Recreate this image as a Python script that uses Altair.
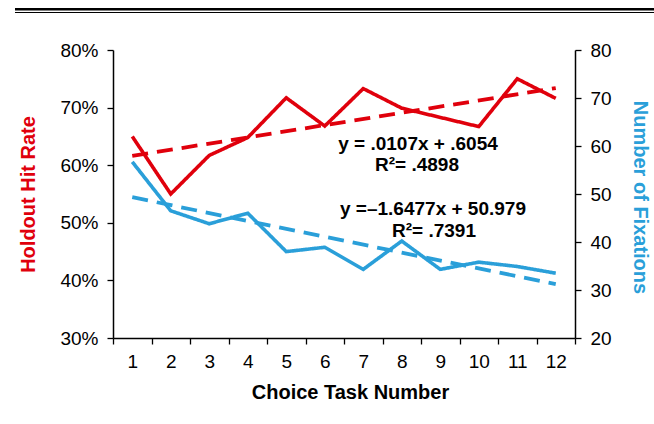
import altair as alt
import pandas as pd

# Choice tasks 1..12
tasks = list(range(1, 13))

# Holdout hit rate per task (share)
hit_rate = [0.650, 0.550, 0.617, 0.648, 0.717, 0.668, 0.733, 0.699, 0.683, 0.667, 0.750, 0.716]

# Number of fixations per task
fixations = [56.7, 46.5, 43.8, 46.0, 38.0, 38.9, 34.3, 40.2, 34.3, 35.8, 34.9, 33.5]

# Linear trend coefficients (slope, intercept) and fit quality
hit_slope, hit_intercept, hit_r2 = 0.0107, 0.6054, ".4898"
fix_slope, fix_intercept, fix_r2 = -1.6477, 50.979, ".7391"

hit_eq = "y = .0107x + .6054"
fix_eq = "y =\u20131.6477x + 50.979"

RED = "#E0000C"
BLUE = "#2A9FD9"
FONT = "Liberation Sans"

trend_x = [tasks[0], tasks[-1]]

red_df = pd.DataFrame(
    {"task": tasks, "value": hit_rate, "kind": "observed"}
)
red_df = pd.concat(
    [red_df, pd.DataFrame({"task": trend_x,
                           "value": [hit_intercept + hit_slope * t for t in trend_x],
                           "kind": "trend"})],
    ignore_index=True,
)

blue_df = pd.DataFrame(
    {"task": tasks, "value": fixations, "kind": "observed"}
)
blue_df = pd.concat(
    [blue_df, pd.DataFrame({"task": trend_x,
                            "value": [fix_intercept + fix_slope * t for t in trend_x],
                            "kind": "trend"})],
    ignore_index=True,
)

dash_scale = alt.Scale(domain=["observed", "trend"], range=[[1, 0], [16, 9]])
width_scale = alt.Scale(domain=["observed", "trend"], range=[3.6, 3.8])

x_enc = alt.X(
    "task:O",
    scale=alt.Scale(type="band", paddingInner=0, paddingOuter=0),
    axis=alt.Axis(
        title="Choice Task Number",
        labelAngle=0,
        tickBand="extent",
        tickSize=6,
        labelPadding=8,
        labelFontSize=19,
        titleFontSize=20,
        titleFontWeight="bold",
        titleX=237,
        titleY=54,
        titleBaseline="middle",
        titleAlign="center",
    ),
)

red_lines = alt.Chart(red_df).mark_line(color=RED, strokeCap="butt").encode(
    x=x_enc,
    y=alt.Y(
        "value:Q",
        scale=alt.Scale(domain=[0.3, 0.8], zero=False),
        axis=alt.Axis(
            title="Holdout Hit Rate",
            orient="left",
            values=[0.3, 0.4, 0.5, 0.6, 0.7, 0.8],
            format=".0%",
            tickSize=6,
            labelPadding=9,
            labelFontSize=19,
            titleColor=RED,
            titleFontSize=20,
            titleFontWeight="bold",
            titleAngle=270,
            titleX=-85,
            titleY=144,
            titleBaseline="middle",
            titleAlign="center",
            grid=False,
        ),
    ),
    detail="kind:N",
    strokeDash=alt.StrokeDash("kind:N", scale=dash_scale, legend=None),
    strokeWidth=alt.StrokeWidth("kind:N", scale=width_scale, legend=None),
)

hit_notes = pd.DataFrame({
    "task": [9, 9],
    "value": [0.6368, 0.6005],
    "label": [hit_eq, "R\u00b2= " + hit_r2],
    "shift": [-3, -4],
})

red_text = alt.Chart(hit_notes).mark_text(
    font=FONT, fontSize=19, fontWeight="bold", color="black", baseline="middle"
).encode(
    x=alt.X("task:O"),
    y=alt.Y("value:Q"),
    xOffset=alt.XOffset("shift:Q", scale=None),
    text="label:N",
)

blue_lines = alt.Chart(blue_df).mark_line(color=BLUE, strokeCap="butt").encode(
    x=alt.X("task:O"),
    y=alt.Y(
        "value:Q",
        scale=alt.Scale(domain=[20, 80], zero=False),
        axis=alt.Axis(
            title="Number of Fixations",
            orient="right",
            values=[20, 30, 40, 50, 60, 70, 80],
            tickSize=6,
            labelPadding=9,
            labelFontSize=19,
            titleColor=BLUE,
            titleFontSize=20,
            titleFontWeight="bold",
            titleAngle=90,
            titleX=64,
            titleY=147,
            titleBaseline="middle",
            titleAlign="center",
            grid=False,
        ),
    ),
    detail="kind:N",
    strokeDash=alt.StrokeDash("kind:N", scale=dash_scale, legend=None),
    strokeWidth=alt.StrokeWidth("kind:N", scale=width_scale, legend=None),
)

fix_notes = pd.DataFrame({
    "task": [9, 9],
    "value": [46.8, 42.3],
    "label": [fix_eq, "R\u00b2= " + fix_r2],
    "shift": [12, 13],
})

blue_text = alt.Chart(fix_notes).mark_text(
    font=FONT, fontSize=19, fontWeight="bold", color="black", baseline="middle"
).encode(
    x=alt.X("task:O"),
    y=alt.Y("value:Q"),
    xOffset=alt.XOffset("shift:Q", scale=None),
    text="label:N",
)

# Double rule across the top of the figure
top_thick = alt.Chart(pd.DataFrame({"k": [0]})).mark_rule(
    color="black", strokeWidth=2.6
).encode(x=alt.value(-98), x2=alt.value(560), y=alt.value(-40.7))
top_thin = alt.Chart(pd.DataFrame({"k": [0]})).mark_rule(
    color="black", strokeWidth=1.2
).encode(x=alt.value(-98), x2=alt.value(560), y=alt.value(-37.5))

left_group = alt.layer(red_lines, red_text, top_thick, top_thin)
right_group = alt.layer(blue_lines, blue_text)

chart = (
    alt.layer(left_group, right_group)
    .resolve_scale(y="independent", strokeDash="shared", strokeWidth="shared")
    .properties(
        width=462,
        height=288,
        autosize=alt.AutoSizeParams(type="none"),
        padding={"left": 113, "top": 50, "right": 79, "bottom": 86},
        background="white",
    )
    .configure_view(stroke=None)
    .configure_axis(
        labelFont=FONT,
        titleFont=FONT,
        labelColor="black",
        domainColor="black",
        tickColor="black",
        domainWidth=1.5,
        tickWidth=1.3,
    )
)

chart.save("out.html", embed_options={"renderer": "svg", "actions": False})
